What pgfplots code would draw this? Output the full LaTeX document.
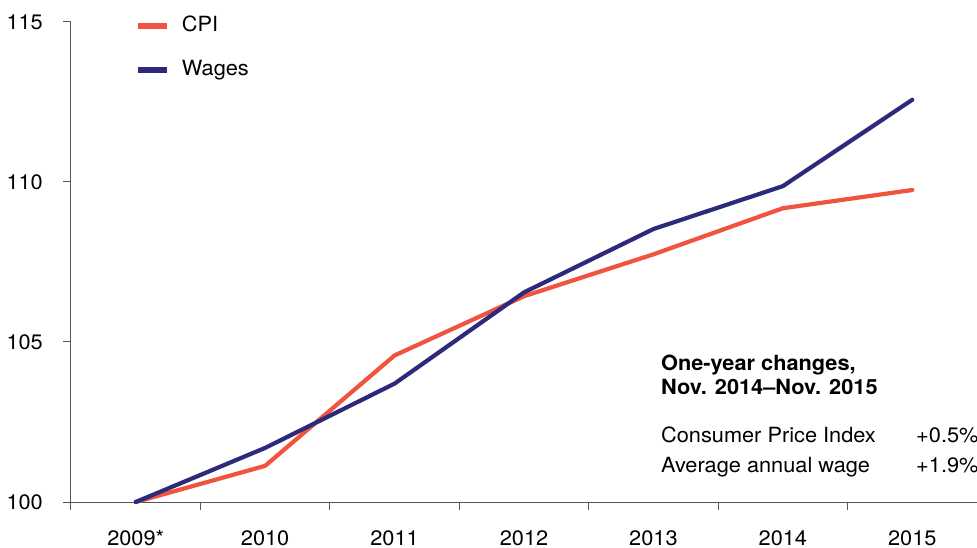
\documentclass[border=0pt]{standalone}
\usepackage{pgfplots}
\pgfplotsset{compat=1.18}
\usepackage{fontspec}
\setmainfont{TeX Gyre Heros}[FakeStretch=1.04]
\definecolor{cpi}{HTML}{F0533F}
\definecolor{wag}{HTML}{2D2A7C}
\definecolor{axg}{HTML}{555555}
\begin{document}
\fontsize{21}{25}\selectfont
\begin{tikzpicture}
\begin{axis}[
  at={(0,0)}, anchor=south west,
  scale only axis, width=906bp, height=480bp,
  xmin=-0.5, xmax=6.5, ymin=100, ymax=115,
  axis x line*=bottom, axis y line*=left,
  axis line style={axg, line width=1bp},
  clip=false,
  xtick={0,...,6}, xticklabels={2009*,2010,2011,2012,2013,2014,2015},
  minor xtick={-0.5,0.5,1.5,2.5,3.5,4.5,5.5},
  ytick={100,105,110,115}, yticklabels={100,105,110,115},
  tick align=outside, major tick length=8bp, minor tick length=8bp,
  tick style={axg, line width=1bp},
  major x tick style={draw=none},
  ticklabel style={font=\fontsize{21}{25}\selectfont},
  xticklabel style={yshift=-13bp},
  yticklabel style={xshift=-13bp},
  legend style={draw=none, fill=none, at={(0.0706,1.0104)}, anchor=north west,
    inner sep=0pt, outer sep=0pt, row sep=26bp, column sep=12bp,
    nodes={inner sep=0pt, text height=14bp, text depth=4bp, font=\fontsize{21}{25}\selectfont}},
  legend cell align=left,
  legend image code/.code={\draw[#1, line width=6bp, line cap=butt] (0bp,0bp) -- (29bp,0bp);},
]
\addplot[cpi, line width=4.2bp, line join=round, line cap=round] coordinates {
  (0,100.0) (1,101.13) (2,104.58) (3,106.43) (4,107.74) (5,109.18) (6,109.75)};
\addlegendentry{CPI}
\addplot[wag, line width=4.2bp, line join=round, line cap=round] coordinates {
  (0,100.0) (1,101.69) (2,103.70) (3,106.55) (4,108.53) (5,109.87) (6,112.57)};
\addlegendentry{Wages}
\node[anchor=base west, inner sep=0pt, font=\bfseries] at (axis cs:4.058,104.094) {One-year changes,};
\node[anchor=base west, inner sep=0pt, font=\bfseries] at (axis cs:4.058,103.344) {Nov. 2014–Nov. 2015};
\node[anchor=base west, inner sep=0pt] at (axis cs:4.058,101.875) {Consumer Price Index};
\node[anchor=base west, inner sep=0pt] at (axis cs:4.058,100.9375) {Average annual wage};
\node[anchor=base west, inner sep=0pt] at (axis cs:6.029,101.875) {+0.5\%};
\node[anchor=base west, inner sep=0pt] at (axis cs:6.029,100.9375) {+1.9\%};
\end{axis}
\pgfresetboundingbox
\path (-71bp,-46bp) rectangle (906bp,502bp);
\end{tikzpicture}
\end{document}
